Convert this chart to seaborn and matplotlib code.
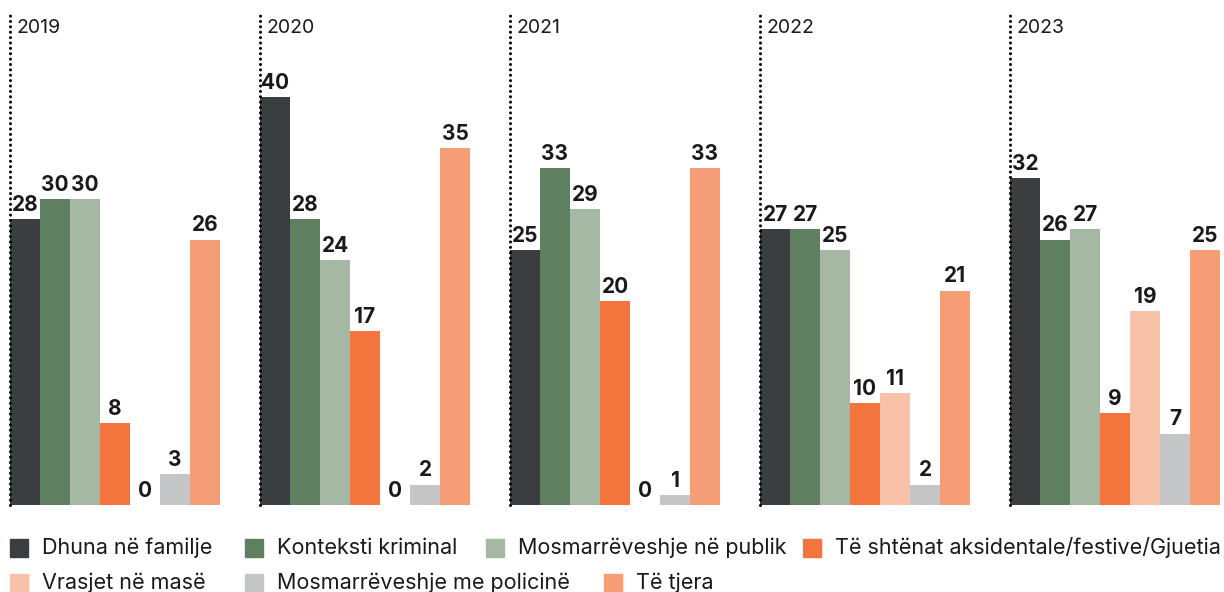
"""Killings by context, 2019-2023 (grouped bars, one panel per year)"""

import numpy as np
import pandas as pd
import matplotlib.pyplot as plt
import seaborn as sns
from matplotlib.patches import Rectangle

# ---- data ----
years = ['2019', '2020', '2021', '2022', '2023']
categories = [
    'Dhuna në familje',
    'Konteksti kriminal',
    'Mosmarrëveshje në publik',
    'Të shtënat aksidentale/festive/Gjuetia',
    'Vrasjet në masë',
    'Mosmarrëveshje me policinë',
    'Të tjera',
]
values_2019 = [28, 30, 30, 8, 0, 3, 26]
values_2020 = [40, 28, 24, 17, 0, 2, 35]
values_2021 = [25, 33, 29, 20, 0, 1, 33]
values_2022 = [27, 27, 25, 10, 11, 2, 21]
values_2023 = [32, 26, 27, 9, 19, 7, 25]
colors = ['#3a3e41', '#5e8060', '#a4b8a3', '#f3743d', '#f9c1a8', '#c4c5c7', '#f59d76']

all_values = [values_2019, values_2020, values_2021, values_2022, values_2023]
df = pd.DataFrame([
    {'year': y, 'category': c, 'value': v}
    for y, vals in zip(years, all_values)
    for c, v in zip(categories, vals)
])
palette = dict(zip(categories, colors))

# ---- style ----
sns.set_style('white')
plt.rcParams['font.family'] = ['Inter', 'DejaVu Sans']
TEXT = '#1a1a1a'

W, H = 1224, 592
fig = plt.figure(figsize=(W / 100, H / 100), dpi=100)

# panel geometry in pixels
panel_step = 250
panel_left = 10
bar_block = 210
base_y = 505
top_y = 15

for i, year in enumerate(years):
    ax = fig.add_axes([(panel_left + i * panel_step) / W, (H - base_y) / H,
                       bar_block / W, (base_y - top_y) / H])
    sub = df[df['year'] == year]
    sns.barplot(data=sub, x='category', y='value', hue='category',
                order=categories, hue_order=categories, palette=palette,
                width=1, legend=False, saturation=1, linewidth=0, ax=ax)
    for cont in ax.containers:
        ax.bar_label(cont, padding=3, fontsize=15, fontweight='bold', color=TEXT)
    ax.set_xlim(-0.5, len(categories) - 0.5)
    ax.set_ylim(0, 48)
    ax.set_axis_off()
    # dotted separator on the left edge of each panel
    ax.axvline(-0.5, ymin=0, ymax=1, color='black', lw=2.2,
               ls=(0, (0.01, 1.75)), dash_capstyle='round', clip_on=False)
    ax.annotate(year, xy=(0, 1), xycoords='axes fraction', xytext=(5, -9.5),
                textcoords='offset points', ha='left', va='center',
                fontsize=14, color=TEXT)

# ---- legend, laid out in two rows ----
legend_rows = [
    [(0, 10), (1, 245), (2, 486), (3, 803)],
    [(4, 10), (5, 245), (6, 604)],
]
row_y = [548, 583]
sq = 18
for row, yc in zip(legend_rows, row_y):
    for idx, x in row:
        fig.patches.append(Rectangle((x / W, (H - yc - sq / 2) / H), sq / W, sq / H,
                                     transform=fig.transFigure, color=colors[idx]))
        fig.text((x + 32) / W, (H - yc) / H, categories[idx], ha='left', va='center',
                 fontsize=15.5, color=TEXT)

fig.savefig('out.png', dpi=100)
